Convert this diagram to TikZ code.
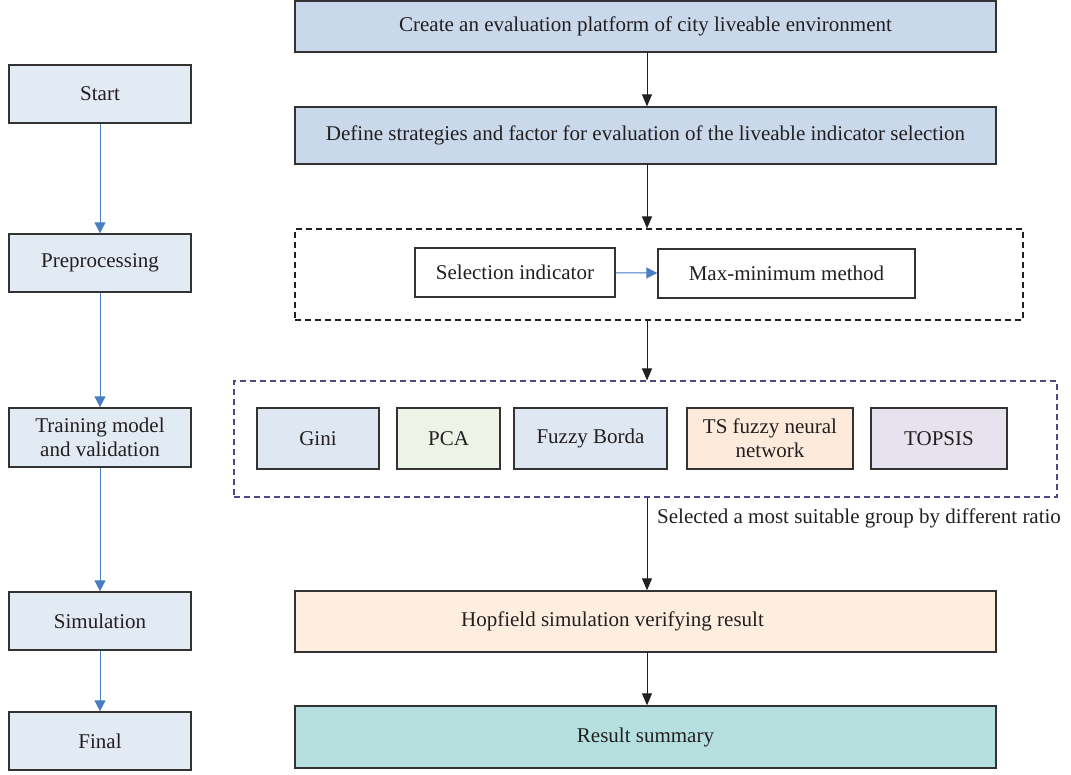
\documentclass[tikz,border=0pt]{standalone}
\usepackage{fontspec}
\setmainfont{Liberation Serif}
\usetikzlibrary{arrows.meta}
\definecolor{topfill}{HTML}{C9D8EB}
\definecolor{leftfill}{HTML}{E2EAF4}
\definecolor{bluefill}{HTML}{DFE8F2}
\definecolor{greenfill}{HTML}{EEF3E8}
\definecolor{orangefill}{HTML}{FDEADB}
\definecolor{purplefill}{HTML}{E6E3EF}
\definecolor{peachfill}{HTML}{FDEEE0}
\definecolor{tealfill}{HTML}{B6E0DF}
\definecolor{edge}{HTML}{333333}
\definecolor{txt}{HTML}{231F20}
\definecolor{bluearrow}{HTML}{4A7EC3}
\definecolor{dashpurple}{HTML}{4B4A86}
\tikzset{
  box/.style={draw=edge, line width=1.4pt, inner sep=2pt, align=center,
    font=\fontsize{21}{24}\selectfont, text=txt},
  leftbox/.style={box, fill=leftfill, minimum width=182pt, minimum height=58pt},
  topbox/.style={box, fill=topfill, minimum width=701pt},
  dashbox/.style={draw=#1, line width=1.1pt, dash pattern=on 6pt off 4pt},
  blk/.style={draw=txt, line width=1pt, -{Triangle[width=10pt,length=12pt]}},
  blu/.style={draw=bluearrow, line width=1pt, -{Triangle[width=11pt,length=11pt]}, fill=bluearrow},
}
\begin{document}
\begin{tikzpicture}[x=1pt,y=-1pt]
\useasboundingbox (0,0) rectangle (1071,774);
% left column
\node[leftbox] (start) at (100,94) {Start};
\node[leftbox] (pre) at (100,263) {Preprocessing};
\node[leftbox, minimum height=59pt] (train) at (100,437.5) {Training model\\and validation};
\node[leftbox] (sim) at (100,621) {Simulation};
\node[leftbox] (final) at (100,741) {Final};
\draw[blu] (start) -- (pre);
\draw[blu] (pre) -- (train);
\draw[blu] (train) -- (sim);
\draw[blu] (sim) -- (final);
% right column
\node[topbox, minimum height=51pt] (create) at (645.5,26.5) {Create an evaluation platform of city liveable environment};
\node[topbox, minimum height=57pt] (define) at (645.5,135.5) {Define strategies and factor for evaluation of the liveable indicator selection};
\node[dashbox=txt, minimum width=728pt, minimum height=91pt] (dash1) at (659,274.5) {};
\node[box, fill=white, minimum width=200pt, minimum height=49pt] (sel) at (515,272.5) {Selection indicator};
\node[box, fill=white, minimum width=257pt, minimum height=49pt] (maxmin) at (786.5,273.5) {Max-minimum method};
\draw[blu] (sel) -- (maxmin);
\node[dashbox=dashpurple, minimum width=823pt, minimum height=116pt] (dash2) at (645.5,439) {};
\node[box, fill=bluefill, minimum width=122pt, minimum height=61pt] (gini) at (318,438.5) {Gini};
\node[box, fill=greenfill, minimum width=103pt, minimum height=61pt] (pca) at (448.5,438.5) {PCA};
\node[box, fill=bluefill, minimum width=153pt, minimum height=61pt] (borda) at (590.5,438.5) {Fuzzy Borda};
\node[box, fill=orangefill, minimum width=166pt, minimum height=61pt] (ts) at (770,438.5) {TS fuzzy neural\\network};
\node[box, fill=purplefill, minimum width=136pt, minimum height=61pt] (topsis) at (939,438.5) {TOPSIS};
\node[box, fill=peachfill, minimum width=701pt, minimum height=61pt] (hop) at (645.5,621.5) {\hspace*{-66pt}Hopfield simulation verifying result};
\node[box, fill=tealfill, minimum width=701pt, minimum height=62pt] (res) at (645.5,737) {Result summary};
\coordinate (ax) at (647,0);
\draw[blk] (create.south -| ax) -- (define.north -| ax);
\draw[blk] (define.south -| ax) -- (dash1.north -| ax);
\draw[blk] (dash1.south -| ax) -- (dash2.north -| ax);
\draw[blk] (dash2.south -| ax) -- (hop.north -| ax);
\draw[blk] (hop.south -| ax) -- (res.north -| ax);
\node[anchor=west, font=\fontsize{21}{24}\selectfont, text=txt, inner sep=0pt] (lbl) at (657,518) {Selected a most suitable group by different ratio};
\end{tikzpicture}
\end{document}
